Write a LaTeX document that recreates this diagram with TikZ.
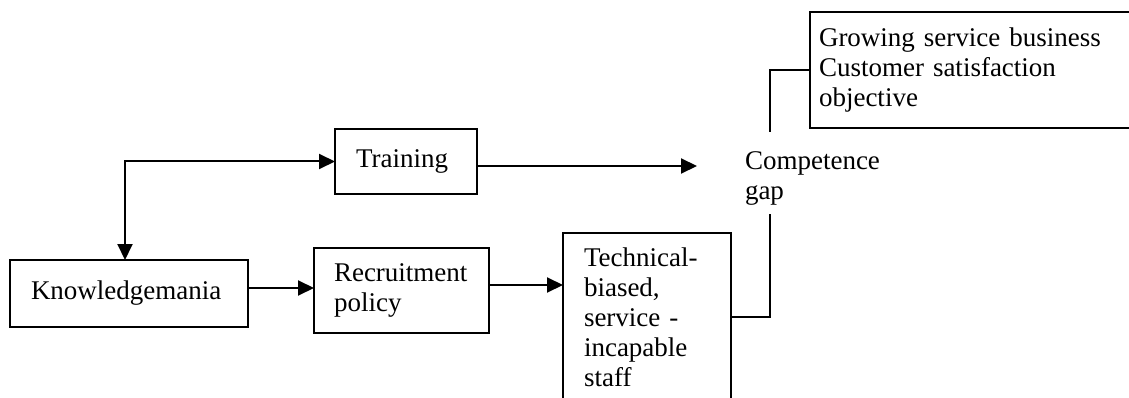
\documentclass[tikz,border=0pt]{standalone}
\usepackage{fontspec}
\setmainfont{Liberation Serif}
\usetikzlibrary{arrows.meta}
\begin{document}
\begin{tikzpicture}[x=1pt,y=-1pt,
  every node/.style={font=\fontsize{27}{30}\selectfont, outer sep=0pt},
  box/.style={draw, line width=2pt, anchor=north west, align=left, inner xsep=21pt, inner ysep=0pt},
  link/.style={line width=2pt},
  arr/.style={link, -{Triangle[length=16pt,width=15pt]}},
  arrb/.style={link, {Triangle[length=16pt,width=15pt]}-{Triangle[length=16pt,width=15pt]}}]
\useasboundingbox (0,0) rectangle (1129,398);

\node[box, text width=196pt, inner xsep=21pt, minimum height=67pt] (know) at (10,260) {Knowledgemania};
\node[box, text width=100pt, minimum height=65pt] (train) at (335,129) {Training};
\node[box, text width=135pt, inner xsep=20pt, minimum height=85pt] (recr) at (314,248) {Recruitment\\policy};
\node[box, text width=126pt, inner xsep=21pt, minimum height=168pt] (tech) at (563,233) {Technical-\\biased,\\service -\\incapable\\staff};
\node[box, text width=310pt, inner xsep=9pt, minimum height=116pt] (goal) at (810,12) {Growing service business\\Customer satisfaction\\objective};
\node[anchor=north west, inner sep=0pt, align=left] (gap) at (745,151.5) {Competence\\gap};

\coordinate (gapin) at (697,166);
\coordinate (gapbot) at (770,214);
\coordinate (gaptop) at (770,132);

\draw[arrb] ([xshift=-4pt]know.north) |- (train.west);
\draw[arr] ([yshift=-4.5pt]train.east) -- (gapin);
\draw[arr] ([yshift=5.5pt]know.east) -- ([yshift=5.5pt]know.east -| recr.west);
\draw[arr] ([yshift=5.5pt]recr.east) -- ([yshift=5.5pt]recr.east -| tech.west);
\draw[link] (tech.east) -| (gapbot);
\draw[link] (gaptop) |- (goal.west);
\end{tikzpicture}
\end{document}
